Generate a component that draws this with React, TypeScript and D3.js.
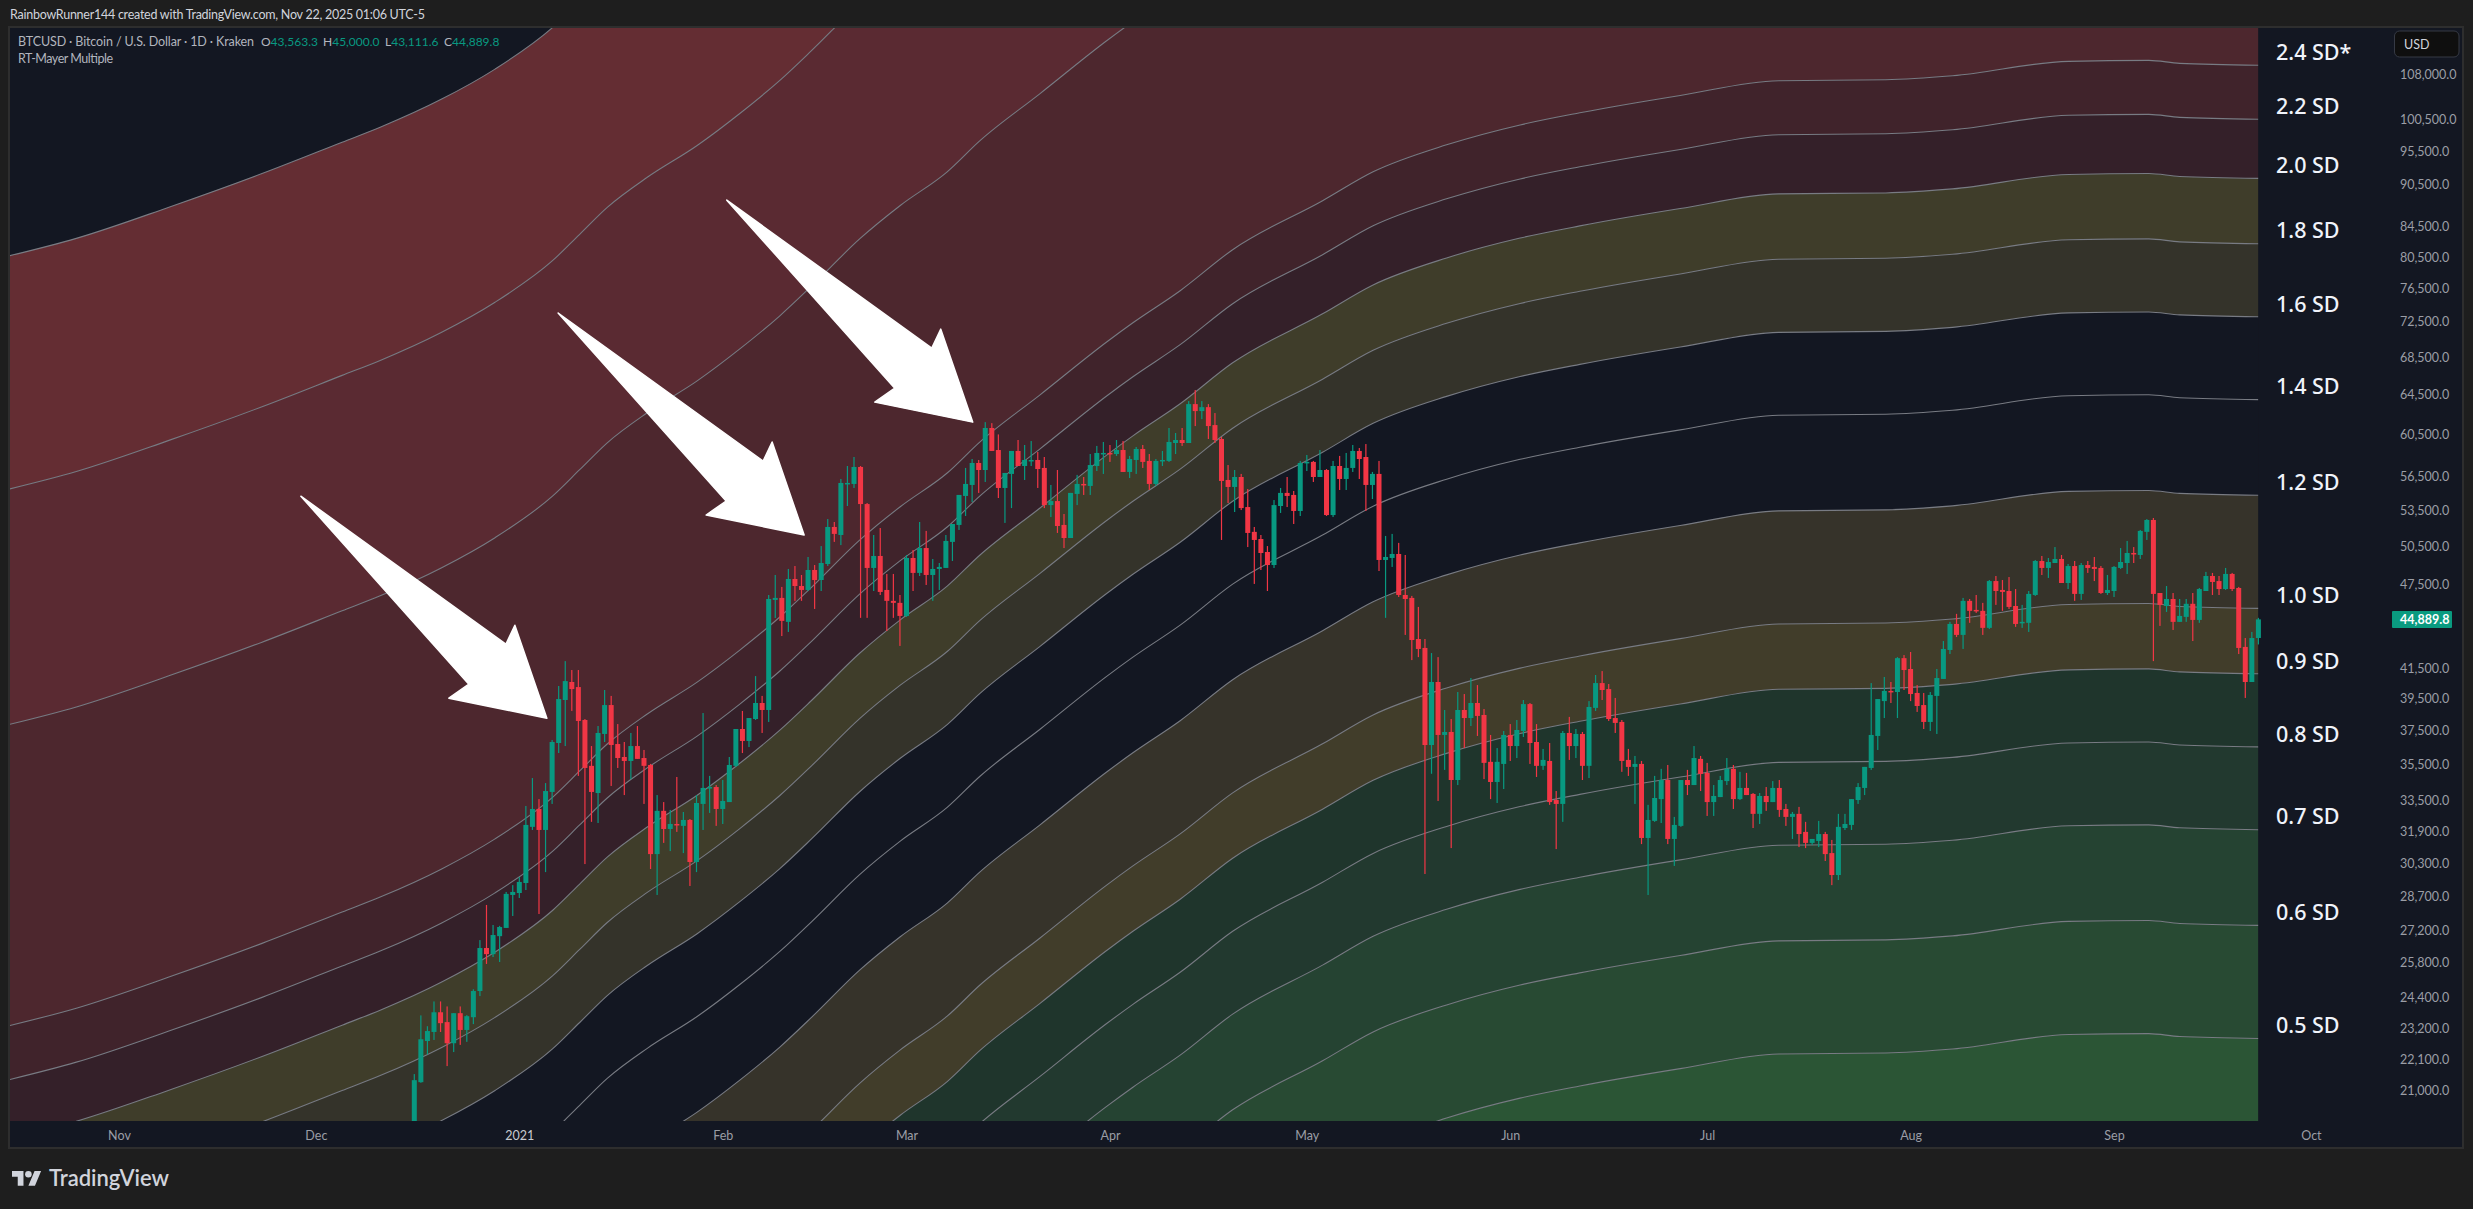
import * as React from "react";
import * as d3 from "d3";

const width = 2473;
const height = 1209;

// BTCUSD daily candles, first one is 2020-12-16
const firstDay = new Date(Date.UTC(2020, 11, 16));

const opens = [
  19450, 21290, 22750, 23085, 23830, 23455, 22670, 23795, 23160, 23640,
  24660, 26430, 26170, 26940, 27300, 28790, 28880, 29350, 32130, 33070,
  31970, 33990, 36780, 39420, 40580, 40250, 38170, 35450, 33930, 37320,
  39100, 36720, 35960, 35730, 36600, 35900, 35500, 30750, 32970, 32020,
  32280, 32180, 32490, 30360, 33340, 34210, 34260, 33070, 33440, 35450,
  37620, 36900, 38230, 39230, 38790, 46320, 46470, 44710, 47910, 47370,
  47070, 48610, 47830, 49080, 52100, 51430, 55840, 55840, 57390, 54060,
  48770, 49720, 47070, 46250, 46100, 45140, 49560, 48380, 50360, 48220,
  48690, 48770, 50860, 52270, 54770, 55750, 57760, 57110, 61110, 58980,
  55480, 56750, 58890, 57480, 57950, 58040, 57300, 53970, 54320, 52270,
  51180, 54950, 55840, 55660, 57480, 58600, 58700, 58600, 58980, 56930,
  58040, 59080, 57950, 55840, 57950, 57950, 59650, 59940, 59650, 63510,
  62800, 63200, 61400, 60040, 56200, 55570, 56470, 53800, 51690, 51100,
  50040, 49000, 53890, 55040, 54860, 53460, 57760, 57860, 56470, 57110,
  53110, 57480, 56290, 57300, 58890, 58320, 55750, 56750, 49400, 49560,
  49880, 46690, 46470, 43490, 42870, 36660, 40580, 37260, 37440, 34650,
  38790, 38290, 39230, 38480, 35680, 34540, 35560, 37260, 36600, 37500,
  39160, 36840, 35450, 35730, 33550, 33340, 37380, 36600, 37320, 35450,
  38920, 40510, 40120, 38290, 38050, 35790, 35390, 35560, 31560, 32440,
  33600, 34650, 31510, 32180, 34650, 34370, 35850, 35050, 33440, 33710,
  34590, 35280, 33600, 34210, 33880, 32810, 33770, 33440, 34210, 33070,
  32650, 32810, 31870, 31310, 31410, 31760, 30800, 29730, 32070, 32230,
  33550, 34210, 35330, 37200, 39350, 40000, 39930, 42170, 41440, 39870,
  39100, 38050, 39680, 40780, 42730, 44560, 43780, 46250, 45580, 45510,
  44280, 47750, 47070, 46990, 45870, 44640, 44640, 46690, 49320, 48770,
  49160, 49480, 47600, 48920, 46770, 49000, 48850, 48770, 46840, 46990,
  48770, 49160, 49960, 49800, 51690, 52690, 46840, 45870, 46390, 44710,
  45070, 46030, 44850, 46990, 48140, 47750, 47140, 48300, 47220, 42940, 40580, 43563.3,
];

const highs = [
  21570, 23710, 23300, 24250, 24250, 24055, 23795, 24055, 23720, 24730,
  26770, 28330, 27430, 27390, 28930, 29250, 29630, 33230, 34760, 33600,
  34480, 36960, 40320, 41970, 41370, 41370, 38230, 36600, 37800, 40060,
  39680, 37920, 36840, 37380, 37800, 36370, 35560, 33820, 33440, 33020,
  34820, 32910, 32540, 33820, 38600, 34880, 34370, 34650, 35960, 37620,
  38730, 38290, 40970, 39680, 46690, 48220, 47300, 48690, 48920, 48220,
  49640, 49000, 50520, 52770, 52520, 56290, 57480, 58320, 57480, 54150,
  51430, 52010, 48300, 48300, 46690, 49800, 50200, 52520, 51770, 49480,
  49160, 51430, 52350, 54860, 57300, 58130, 58040, 61690, 61590, 60480,
  56840, 58890, 59940, 59460, 59840, 58790, 58320, 55750, 57110, 53200,
  55040, 56660, 56470, 58600, 59370, 59750, 59460, 59940, 59840, 58420,
  59270, 59460, 58600, 58130, 58890, 61110, 60620, 61110, 63820, 64960,
  63820, 63510, 62600, 60230, 57570, 57110, 56750, 55390, 52100, 51430,
  50520, 54410, 55480, 56470, 55210, 57950, 58510, 57950, 58980, 57200,
  57950, 58420, 58700, 59460, 59170, 59550, 56930, 57950, 51350, 51520,
  50780, 49800, 46620, 45800, 43490, 42520, 42240, 38790, 38230, 39930,
  39800, 40840, 40380, 38850, 37260, 36480, 37500, 37920, 38170, 39420,
  39230, 37920, 36430, 36780, 34040, 37500, 38360, 37620, 37440, 39350,
  41040, 41300, 40450, 39550, 38170, 36430, 36020, 35730, 33290, 34880,
  35280, 35500, 32650, 34650, 35220, 36600, 36020, 35620, 34370, 34880,
  35900, 35500, 35110, 35050, 33930, 33930, 34260, 34590, 34650, 33340,
  32910, 33180, 32390, 31510, 32440, 31870, 31460, 32810, 32810, 33600,
  34480, 35390, 40510, 39480, 40910, 40580, 42240, 42380, 42590, 40380,
  39870, 39930, 41440, 43350, 44710, 45290, 46470, 46390, 46690, 46100,
  47830, 48140, 47830, 48060, 47140, 45950, 46990, 49400, 49720, 49560,
  50440, 49800, 49080, 49320, 49160, 49320, 49640, 48920, 48220, 48920,
  50360, 50940, 50440, 51850, 52770, 52860, 46840, 47370, 46840, 46390,
  46390, 46840, 47220, 48460, 48380, 48140, 48770, 48380, 47300, 43560, 43990, 45000,
];

const lows = [
  19390, 21270, 22265, 22790, 23085, 21850, 22350, 22610, 22720, 23380,
  24460, 25760, 26050, 25840, 27300, 27830, 28650, 29020, 31970, 27920,
  29870, 33340, 36190, 36600, 38730, 34880, 30260, 32390, 32330, 36840,
  34320, 35330, 33820, 34700, 35850, 33340, 30020, 28790, 31310, 30900,
  31870, 30800, 29210, 29870, 31970, 32860, 32180, 32280, 33440, 35390,
  36190, 36540, 38170, 37380, 38050, 44990, 43700, 43990, 46250, 46250,
  46990, 45650, 46990, 48920, 50860, 50600, 53890, 55480, 45000, 45000,
  46990, 46690, 44060, 45000, 43010, 45070, 46990, 48140, 47450, 46250,
  47070, 48770, 49320, 51850, 53030, 54240, 55040, 56020, 58890, 54590,
  52440, 53710, 57480, 56200, 57480, 55480, 53710, 52940, 51600, 50360,
  51180, 53970, 54860, 54860, 57020, 56750, 57860, 58420, 56930, 56380,
  56750, 57300, 55300, 55660, 57480, 57860, 58600, 59370, 59650, 61300,
  61990, 60040, 59650, 51020, 54150, 53370, 53540, 50440, 47530, 48610,
  46990, 48770, 53290, 53800, 52350, 53030, 57020, 56020, 56470, 53030,
  52940, 55300, 55300, 56930, 56290, 53460, 54500, 48530, 45000, 48850,
  46540, 43780, 42040, 42240, 29780, 35000, 33500, 35220, 31050, 34370,
  36480, 37800, 37200, 34700, 33600, 33390, 34150, 35730, 35900, 37140,
  35560, 34820, 35220, 33290, 31000, 32390, 35790, 35900, 34650, 34760,
  38730, 39420, 38110, 37380, 35110, 34880, 33340, 31250, 28790, 32390,
  32330, 31250, 30170, 32130, 33820, 34370, 34040, 32700, 32700, 33710,
  34370, 33070, 33550, 33820, 32070, 32280, 32970, 33440, 32650, 32180,
  31510, 31100, 31050, 31210, 31100, 30410, 29250, 29490, 31970, 31970,
  33340, 33820, 35220, 36370, 38290, 39230, 38290, 40060, 39350, 38670,
  37620, 37500, 37320, 40780, 42450, 43630, 42800, 44640, 45360, 43780,
  44200, 45950, 45510, 45650, 44350, 44280, 43990, 46620, 48220, 47990,
  49160, 47600, 47140, 46250, 46320, 48380, 47750, 46770, 46690, 46540,
  48690, 48300, 49160, 49480, 51020, 41970, 44420, 45430, 44130, 44710,
  44710, 43350, 44640, 46990, 46690, 46690, 47070, 46990, 42450, 39550, 40580, 43111.6,
];

const closes = [
  21360, 22815, 23120, 23830, 23415, 22670, 23795, 23160, 23680, 24660,
  26430, 26170, 26990, 27340, 28840, 28930, 29400, 32230, 33070, 31970,
  34040, 36840, 39480, 40640, 40120, 38110, 35330, 33990, 37380, 39100,
  36660, 35900, 35730, 36600, 35850, 35450, 30750, 32970, 32020, 32280,
  32230, 32490, 30360, 33390, 34210, 34260, 33070, 33500, 35500, 37620,
  36900, 38290, 39230, 38790, 46390, 46470, 44780, 47910, 47370, 47070,
  48610, 47830, 49160, 52100, 51520, 55930, 55930, 57390, 54060, 48770,
  49720, 46920, 46250, 46100, 45140, 49560, 48380, 50360, 48220, 48690,
  48850, 50940, 52350, 54860, 55840, 57760, 57110, 61110, 58890, 55480,
  56840, 58890, 57480, 58040, 58040, 57200, 53970, 54320, 52180, 51180,
  55040, 55840, 55750, 57570, 58700, 58700, 58600, 58980, 56930, 58130,
  59080, 57860, 55840, 57950, 58040, 59750, 59940, 59650, 63510, 62800,
  63200, 61300, 59940, 56110, 55570, 56470, 53710, 51600, 51020, 49960,
  49000, 53970, 55040, 54770, 53460, 57760, 57860, 56470, 57110, 53110,
  57480, 56290, 57300, 58890, 58130, 55750, 56750, 49400, 49640, 49880,
  46690, 46390, 43420, 42800, 36660, 40580, 37260, 37440, 34650, 38790,
  38290, 39230, 38420, 35620, 34540, 35680, 37260, 36600, 37560, 39160,
  36780, 35450, 35790, 33440, 33340, 37380, 36600, 37320, 35450, 38980,
  40510, 40060, 38230, 37990, 35730, 35390, 35560, 31560, 32490, 33660,
  34650, 31510, 32230, 34650, 34370, 35900, 34990, 33440, 33770, 34650,
  35280, 33600, 34210, 33820, 32810, 33770, 33440, 34210, 33020, 32650,
  32810, 31760, 31310, 31510, 31760, 30750, 29730, 32130, 32280, 33600,
  34260, 35390, 37260, 39480, 40000, 39930, 42170, 41370, 39800, 39040,
  38050, 39740, 40840, 42800, 44560, 43780, 46250, 45510, 45510, 44280,
  47750, 46990, 46920, 45800, 44560, 44710, 46770, 49320, 48770, 49240,
  49480, 47600, 48920, 46770, 49000, 48770, 48690, 46840, 47070, 48850,
  49240, 49960, 49880, 51770, 52690, 46770, 45950, 46390, 44710, 45140,
  46030, 44850, 47140, 48140, 47680, 47140, 48300, 47140, 42870, 40580, 43560, 44889.8,
];

// the 1.0 line of the indicator, days counted from firstDay
const maDays = [
  -62, -51.5, -37.5, -23.2, -11, -5.2, 4.1, 12.3, 21.1, 25.2, 29.4, 35.5, 43.1, 49.6, 55.7, 60.6, 67.9, 74, 81.2,
  86.2, 95.3, 105.5, 109.5, 116.7, 124.7, 138.4, 146.1, 157.3, 168.5, 177.6, 192.9, 207.9, 224.2, 234.4, 252.1,
  264.3, 269, 281,
];
const maValues = [
  9710, 9995, 10505, 11095, 11670, 11955, 12505, 13130, 14045, 14650, 15300, 16060, 16905, 17800, 18775, 19710,
  21260, 22420, 23680, 24900, 26850, 29250, 30170, 31770, 33940, 36730, 38480, 40190, 41500, 42320, 43520, 44560,
  44630, 44920, 45980, 46050, 45830, 45690,
];

// every other line is the 1.0 line times its multiple (the three top ones have no label on the chart)
const multiples = [8.3, 5.7, 3.9, 2.4, 2.2, 2.0, 1.8, 1.6, 1.4, 1.2, 1.0, 0.9, 0.8, 0.7, 0.6, 0.5];
const bandColors = [
  "#642d33", "#5a2a32", "#4d272e", "#40232b", "#342029", "#3f3d2a", "#34332a", "#131722",
  "#131722", "#36332a", "#413d2a", "#1f352c", "#22392f", "#254332", "#284a33", "#2b5535",
];
const sdLabels = ["2.4 SD*", "2.2 SD", "2.0 SD", "1.8 SD", "1.6 SD", "1.4 SD", "1.2 SD", "1.0 SD", "0.9 SD", "0.8 SD", "0.7 SD", "0.6 SD", "0.5 SD"];

const priceTicks = [
  108000, 100500, 95500, 90500, 84500, 80500, 76500, 72500, 68500, 64500, 60500, 56500, 53500, 50500, 47500,
  41500, 39500, 37500, 35500, 33500, 31900, 30300, 28700, 27200, 25800, 24400, 23200, 22100, 21000,
];
const monthTicks = d3.utcMonth.range(new Date(Date.UTC(2020, 10, 1)), new Date(Date.UTC(2021, 10, 1)));

// arrow tips, days from firstDay and price
const arrowDays = [20.2, 59.4, 85.1];
const arrowPrices = [38280, 51430, 61690];

const dayToDate = (d: number) => new Date(firstDay.getTime() + d * 864e5);

const uiFont = "Lato, 'Noto Sans', sans-serif";
const plotLeft = 10;
const plotTop = 28;
const plotRight = 2258.4;
const plotBottom = 1121;

const App: React.FC = () => {
  const gx = React.useRef<SVGGElement>(null);
  const gy = React.useRef<SVGGElement>(null);

  const x = d3.scaleUtc().domain([firstDay, dayToDate(281)]).range([414.3, plotRight]);
  const y = d3.scaleLog().domain([108000, 21000]).range([74.7, 1090.7]);

  const candles = opens.map((o, i) => ({
    date: dayToDate(i),
    open: o,
    high: highs[i],
    low: lows[i],
    close: closes[i],
  }));
  const ma = maDays.map((d, i) => ({ date: dayToDate(d), value: maValues[i] }));

  const lineFor = (m: number) =>
    d3
      .line<{ date: Date; value: number }>()
      .x((d) => x(d.date))
      .y((d) => y(d.value * m))
      .curve(d3.curveMonotoneX)(ma) || undefined;

  const bandFor = (i: number) =>
    d3
      .area<{ date: Date; value: number }>()
      .x((d) => x(d.date))
      .y0((d) => (i + 1 < multiples.length ? y(d.value * multiples[i + 1]) : plotBottom))
      .y1((d) => y(d.value * multiples[i]))
      .curve(d3.curveMonotoneX)(ma) || undefined;

  React.useEffect(() => {
    if (gy.current) {
      const g = d3.select(gy.current);
      g.call(d3.axisRight(y).tickValues(priceTicks).tickFormat((d) => d3.format(",.1f")(d as number)).tickSize(0).tickPadding(0));
      g.select(".domain").remove();
      g.attr("font-family", uiFont).attr("font-size", 12.5);
      g.selectAll("text").attr("fill", "#9b9ea6");
    }
    if (gx.current) {
      const g = d3.select(gx.current);
      g.call(
        d3
          .axisBottom(x)
          .tickValues(monthTicks)
          .tickFormat((d) => ((d as Date).getUTCMonth() === 0 ? "2021" : d3.utcFormat("%b")(d as Date)))
          .tickSize(0)
          .tickPadding(10)
      );
      g.select(".domain").remove();
      g.attr("font-family", uiFont).attr("font-size", 12.5);
      g.selectAll("text").attr("fill", (d) => ((d as Date).getUTCMonth() === 0 ? "#c8cad0" : "#9b9ea6"));
    }
  }, []);

  const last = closes[closes.length - 1];
  const green = "#089981";
  const red = "#f23645";

  return (
    <svg width={width} height={height} style={{ position: "absolute", left: 0, top: 0 }}>
      <defs>
        <clipPath id="plot">
          <rect x={plotLeft} y={plotTop} width={plotRight - plotLeft} height={plotBottom - plotTop} />
        </clipPath>
        <clipPath id="candles">
          <rect x={plotLeft} y={plotTop} width={plotRight - plotLeft + 6} height={plotBottom - plotTop} />
        </clipPath>
      </defs>
      <rect width={width} height={height} fill="#1e1e1e" />
      <text x={10} y={19} fontFamily={uiFont} fontSize={12.5} fill="#d1d4dc" textLength={415}>
        RainbowRunner144 created with TradingView.com, Nov 22, 2025 01:06 UTC-5
      </text>
      <rect x={9} y={27} width={2454} height={1121} fill="#131722" stroke="#2e2e2e" strokeWidth={2} />

      <g clipPath="url(#plot)">
        {multiples.map((m, i) => (
          <path key={m} d={bandFor(i)} fill={bandColors[i]} />
        ))}
        {multiples.map((m) => (
          <path key={m} d={lineFor(m)} fill="none" stroke="#787b83" strokeWidth={1.1} />
        ))}
      </g>

      <g clipPath="url(#candles)">
        {candles.map((c) => {
          const color = c.close >= c.open ? green : red;
          const top = y(Math.max(c.open, c.close));
          const bottom = y(Math.min(c.open, c.close));
          return (
            <g key={c.date.getTime()} fill={color}>
              <rect x={x(c.date) - 0.6} y={y(c.high)} width={1.2} height={y(c.low) - y(c.high)} />
              <rect x={x(c.date) - 2.5} y={top} width={5} height={Math.max(bottom - top, 1.5)} />
            </g>
          );
        })}
      </g>

      {arrowDays.map((d, i) => {
        const tx = x(dayToDate(d));
        const ty = y(arrowPrices[i]);
        const shape: [number, number][] = [[-246, -222], [-41, -74], [-32, -93], [0, 0], [-98, -20], [-78, -34]];
        return (
          <path
            key={d}
            d={(d3.line()(shape.map(([a, b]) => [tx + a, ty + b])) || "") + "Z"}
            fill="#ffffff"
            stroke="#ffffff"
            strokeWidth={1.5}
            strokeLinejoin="round"
          />
        );
      })}

      {sdLabels.map((s, i) => (
        <text
          key={s}
          x={2276}
          y={y(maValues[maValues.length - 1] * multiples[i + 3]) - 13}
          dy="0.36em"
          fontFamily="'Noto Sans', sans-serif"
          fontSize={21.5}
          fontWeight={500}
          fill="#f0f3fa"
        >
          {s}
        </text>
      ))}

      <g ref={gy} transform="translate(2400,0)" />
      <g ref={gx} transform={`translate(0,${plotBottom})`} />

      <rect x={2392} y={y(last) - 8.5} width={60} height={17} fill="#0a9b80" rx={1} />
      <text x={2400} y={y(last)} dy="0.36em" fontFamily={uiFont} fontSize={12.5} fontWeight={700} fill="#ffffff">
        {d3.format(",.1f")(last)}
      </text>

      <rect x={2394.5} y={31} width={64.5} height={26} rx={5} fill="#0f0f0f" stroke="#363a45" />
      <text x={2404} y={48.5} fontFamily={uiFont} fontSize={12.5} fill="#d1d4dc">
        USD
      </text>

      <text x={18} y={46} fontFamily={uiFont} fontSize={12.5} fill="#b2b5be" textLength={236}>
        BTCUSD · Bitcoin / U.S. Dollar · 1D · Kraken
      </text>
      {["O", "H", "L", "C"].map((k, i) => (
        <text key={k} x={[261, 323, 385, 444][i]} y={46} fontFamily={uiFont} fontSize={12}>
          <tspan fill="#b2b5be">{k}</tspan>
          <tspan fill={green}>{d3.format(",.1f")([opens, highs, lows, closes][i][opens.length - 1])}</tspan>
        </text>
      ))}
      <text x={18} y={63} fontFamily={uiFont} fontSize={12.5} fill="#b2b5be" textLength={95}>
        RT-Mayer Multiple
      </text>

      <g transform="translate(12,1167.7) scale(0.82)" fill="#d1d4dc">
        <path d="M14 22H7V11H0V4h14v18zM28 22h-8l7.5-18h8L28 22z" />
        <circle cx={20} cy={8} r={4} />
      </g>
      <text x={49} y={1186} fontFamily="Lato, sans-serif" fontSize={22} fontWeight={600} fill="#d1d4dc" textLength={120}>
        TradingView
      </text>
    </svg>
  );
};

export default App;
